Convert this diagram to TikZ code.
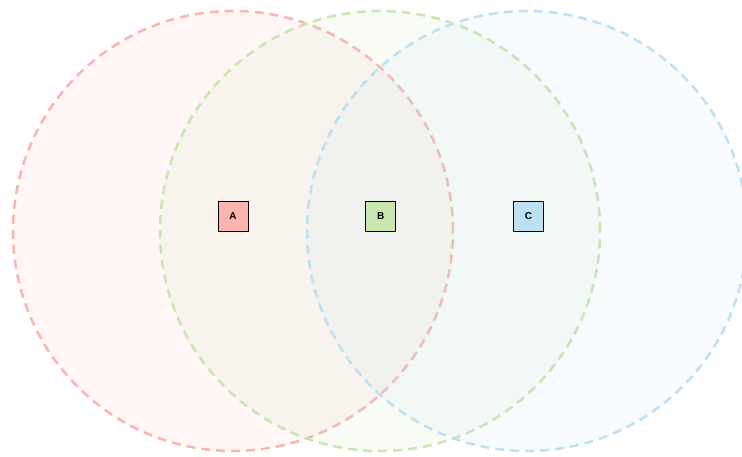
\documentclass[tikz,border=0pt]{standalone}
\usepackage{fontspec}
\setsansfont{Liberation Sans}
\usepackage{xcolor}
\definecolor{cr}{HTML}{FBB4AE}
\definecolor{cg}{HTML}{C8E6AE}
\definecolor{cb}{HTML}{BDE0F3}
\usetikzlibrary{positioning}

\begin{document}
\begin{tikzpicture}[x=1pt, y=-1pt,
  set/.style={circle, minimum size=440pt, inner sep=0pt, line width=2.5pt,
    dash pattern=on 9pt off 6pt, fill opacity=0.12},
  tag/.style={rectangle, draw=black, line width=0.8pt, minimum width=30pt,
    minimum height=30pt, inner sep=0pt, font=\sffamily\bfseries\fontsize{10}{12}\selectfont},
]
  \useasboundingbox (0,0) rectangle (742,457);
  \node[set, draw=cr, fill=cr] (sa) at (233,231) {};
  \node[set, draw=cg, fill=cg] (sb) at (380,231) {};
  \node[set, draw=cb, fill=cb] (sc) at (527,231) {};

  \node[tag, fill=cr] (a) at (233,216) {A};
  \node[tag, fill=cg, right=117pt of a] (b) {B};
  \node[tag, fill=cb, right=117pt of b] (c) {C};
\end{tikzpicture}
\end{document}
